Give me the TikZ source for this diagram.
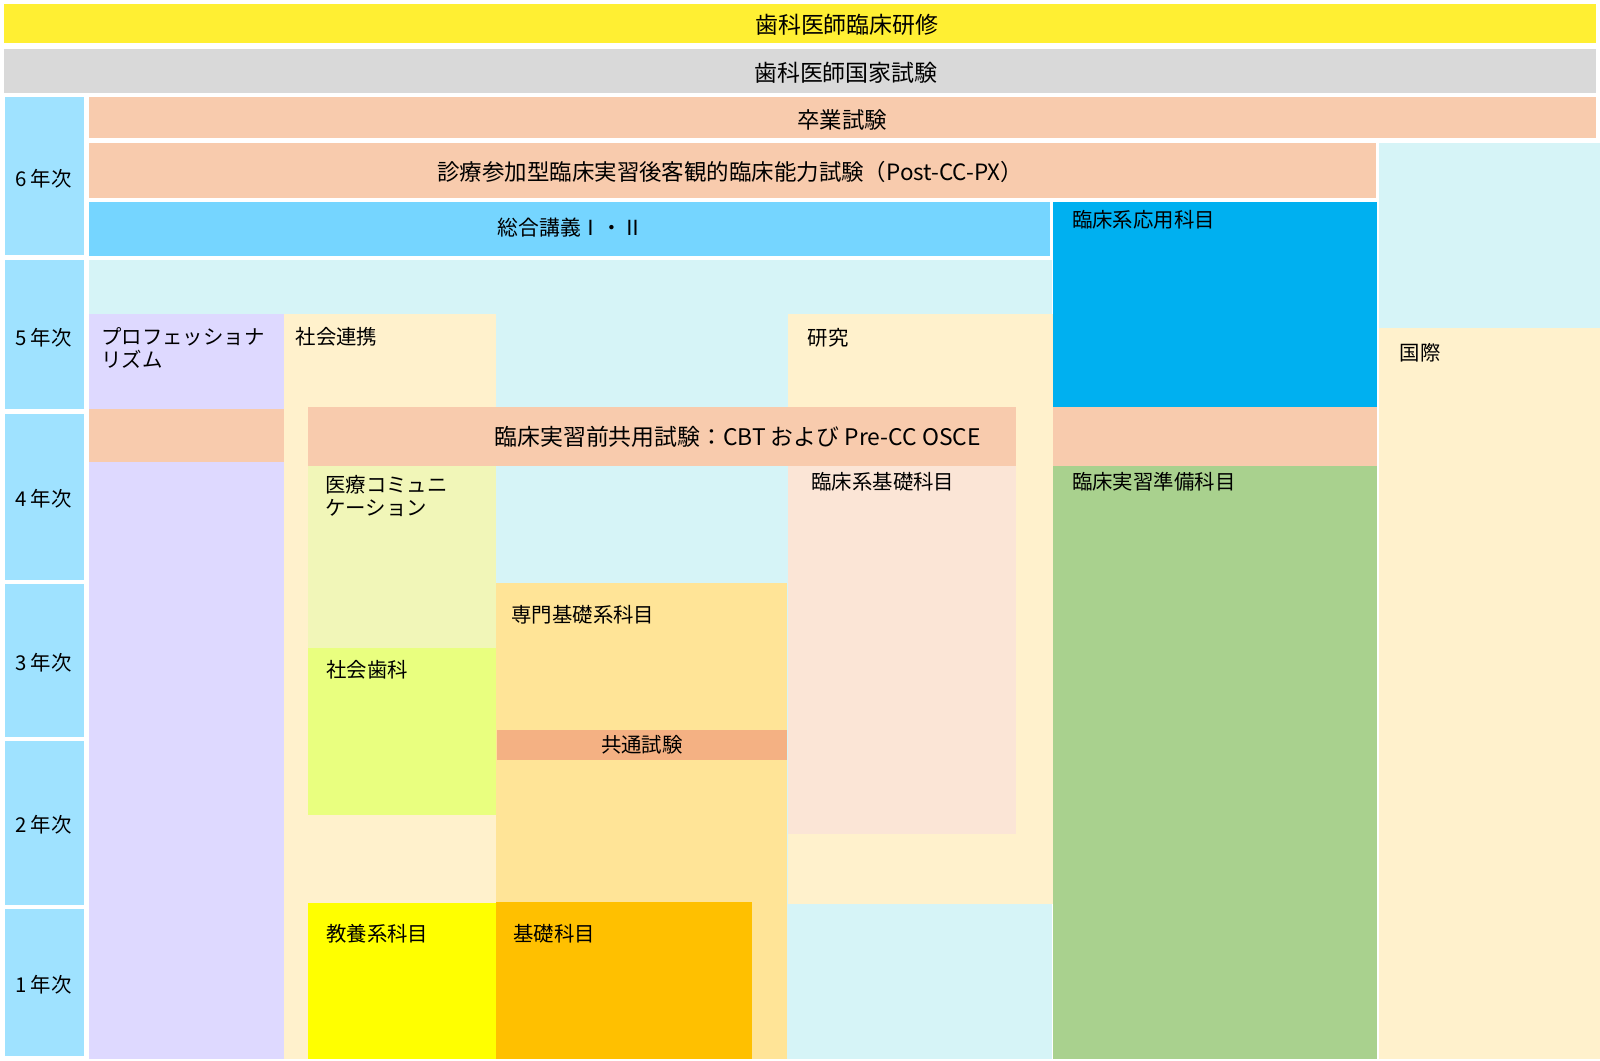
\documentclass[tikz,border=0pt]{standalone}
\usepackage{fontspec}
\setmainfont{Noto Sans CJK JP}
\definecolor{cTop}{HTML}{FFEF33}
\definecolor{cGray}{HTML}{D9D9D9}
\definecolor{cYear}{HTML}{9FE2FF}
\definecolor{cPeach}{HTML}{F8CBAD}
\definecolor{cSogo}{HTML}{75D5FF}
\definecolor{cOuyo}{HTML}{00B0F0}
\definecolor{cCyan}{HTML}{D6F4F7}
\definecolor{cLav}{HTML}{DED9FF}
\definecolor{cCream}{HTML}{FFF1CC}
\definecolor{cIryo}{HTML}{F1F6B8}
\definecolor{cShakai}{HTML}{E9FF7F}
\definecolor{cSenmon}{HTML}{FFE497}
\definecolor{cKyotsu}{HTML}{F4B183}
\definecolor{cRinkiso}{HTML}{FBE5D6}
\definecolor{cJunbi}{HTML}{A9D18E}
\definecolor{cKyoyo}{HTML}{FFFF00}
\definecolor{cKiso}{HTML}{FFC000}
\begin{document}
\begin{tikzpicture}[x=1pt,y=-1pt,
  lbl/.style={inner sep=0pt, font=\fontsize{20}{22}\selectfont, text=black},
  lblL/.style={lbl, anchor=west},
  big/.style={inner sep=0pt, font=\fontsize{22.5}{24}\selectfont, text=black},
  mid/.style={inner sep=0pt, font=\fontsize{22}{24}\selectfont, text=black},
  yr/.style={lbl, anchor=center}]
\useasboundingbox (0,0) rectangle (1568,1039);
\fill[white] (0,0) rectangle (1568,1039);
% top bars
\fill[cTop] (4,4) rectangle (1564,42);
\fill[cGray] (4,48) rectangle (1564,91);
% year column
\fill[cYear] (5,95) rectangle (82,250);
\fill[cYear] (5,255) rectangle (82,401);
\fill[cYear] (5,406) rectangle (82,568);
\fill[cYear] (5,572) rectangle (82,722);
\fill[cYear] (5,726) rectangle (82,887);
\fill[cYear] (5,891) rectangle (82,1035);
% 6th year
\fill[cPeach] (87,95) rectangle (1564,135);
\fill[cPeach] (87,140) rectangle (1348,194);
\fill[cCyan] (1351,140) rectangle (1568,321);
\fill[cSogo] (87,198) rectangle (1029,251);
\fill[cOuyo] (1032,198) rectangle (1349,399);
% background
\fill[cCyan] (87,255) rectangle (1031,1038);
\fill[cLav] (87,308) rectangle (278,1038);
\fill[cCream] (278,308) rectangle (486,1038);
\fill[cCream] (772,308) rectangle (1032,886);
\fill[cCream] (1351,321) rectangle (1568,1038);
% exam bands
\fill[cPeach] (87,401) rectangle (278,453);
\fill[cPeach] (302,399) rectangle (996,457);
\fill[cPeach] (1032,399) rectangle (1349,457);
% subject blocks
\fill[cIryo] (302,457) rectangle (486,635);
\fill[cShakai] (302,635) rectangle (486,799);
\fill[cSenmon] (486,571) rectangle (771,1038);
\fill[cKyotsu] (487,715) rectangle (771,745);
\fill[cRinkiso] (772,457) rectangle (996,817);
\fill[cJunbi] (1032,457) rectangle (1349,1038);
\fill[cKyoyo] (302,885) rectangle (486,1038);
\fill[cKiso] (486,884) rectangle (737,1038);
% texts
\node[big] (tRinsho) at (830,24) {歯科医師臨床研修};
\node[big] (tKokka) at (829,71) {歯科医師国家試験};
\node[mid] (tSotsu) at (825.5,117.5) {卒業試験};
\node[mid, anchor=west] (tPost) at (428.5,168.5) {診療参加型臨床実習後客観的臨床能力試験（Post-CC-PX）};
\node[lbl, anchor=west, font=\fontsize{20.4}{22}\selectfont] (tSogo) at (487.5,223) {総合講義Ⅰ・Ⅱ};
\node[lblL] (tOuyo) at (1050.5,215) {臨床系応用科目};
\node[lblL] (tKokusai) at (1371.5,346) {国際};
\node[lblL] (tPro1) at (99,330) {プロフェッショナ};
\node[lblL] (tPro2) at (99,352) {リズム};
\node[lblL] (tRenkei) at (289.5,330) {社会連携};
\node[lblL] (tKenkyu) at (791.5,331) {研究};
\node[mid, anchor=west, font=\fontsize{22.4}{24}\selectfont] (tCBT) at (484.5,428) {臨床実習前共用試験：CBT および Pre-CC OSCE};
\node[lblL] (tIryo1) at (318.5,475) {医療コミュニ};
\node[lblL] (tIryo2) at (318.5,498) {ケーション};
\node[lblL] (tRinkiso) at (795,472) {臨床系基礎科目};
\node[lblL] (tJunbi) at (1050.5,472) {臨床実習準備科目};
\node[lblL] (tSenmon) at (501,602) {専門基礎系科目};
\node[lblL] (tShakai) at (319.5,656) {社会歯科};
\node[lbl] (tKyotsu) at (629,730) {共通試験};
\node[lblL] (tKyoyo) at (319.5,915) {教養系科目};
\node[lblL] (tKiso) at (503,915) {基礎科目};
% year labels
\node[yr] (y6) at (42.5,175.5) {6 年次};
\node[yr] (y5) at (42.5,330.5) {5 年次};
\node[yr] (y4) at (42.5,489) {4 年次};
\node[yr] (y3) at (42.5,649) {3 年次};
\node[yr] (y2) at (42.5,808.5) {2 年次};
\node[yr] (y1) at (42.5,965) {1 年次};
\end{tikzpicture}
\end{document}
